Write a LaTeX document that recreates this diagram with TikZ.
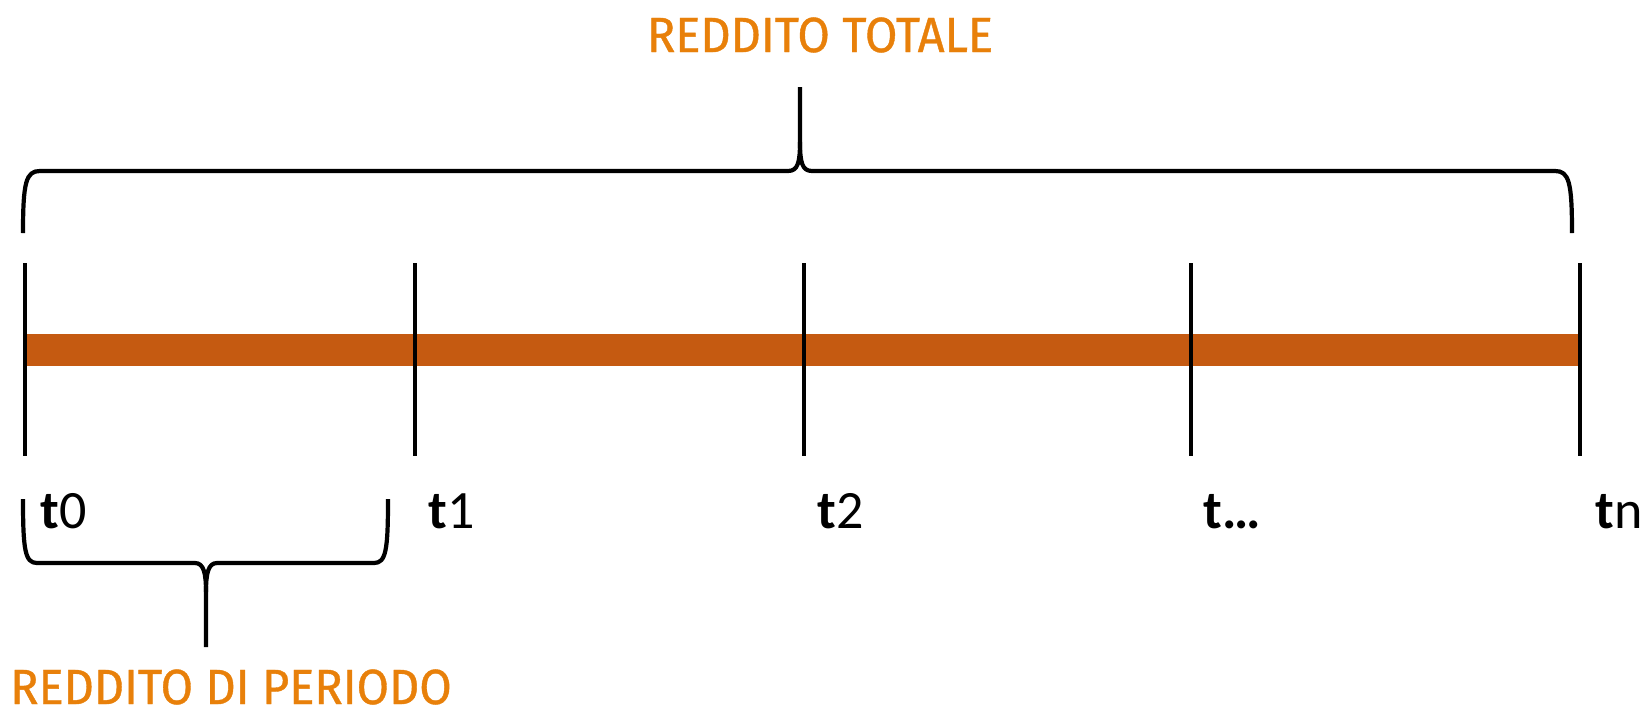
\documentclass[tikz,border=0pt]{standalone}
\usepackage{fontspec}
\setmainfont{Carlito}
\newfontfamily\headfont[FakeStretch=0.95, FakeBold=0.8]{Fira Sans}
\usepackage{xcolor}
\usepackage{tikz}
\usetikzlibrary{positioning, calc}
\definecolor{barorange}{RGB}{197,90,17}
\definecolor{headorange}{RGB}{232,128,10}
\tikzset{
  timebar/.style={line width=16pt, barorange},
  tickline/.style={line width=1.6pt},
  brace/.style={line width=2.1pt, line join=round},
  tlabel/.style={anchor=base west, inner sep=0pt, font=\fontsize{27}{30}\selectfont},
  head/.style={text=headorange, inner sep=0pt, font=\headfont\fontsize{24.7}{28}\selectfont},
}

\begin{document}
\begin{tikzpicture}[x=0.5pt, y=-0.5pt]
  \useasboundingbox (0,0) rectangle (1643,712);
  % time axis: bar with five ticks
  \foreach \n/\x in {0/25, 1/415, 2/804, 3/1191, 4/1580}
    \coordinate (p\n) at (\x,350);
  \draw[timebar] (p0)--(p4);
  \foreach \n in {0,...,4}
    \draw[tickline] ($(p\n)+(0,-87)$)--($(p\n)+(0,106)$);
  % tick labels
  \node[tlabel] (l0) at ($(p0)+(15,178)$) {\textbf{t}0};
  \node[tlabel] (l1) at ($(p1)+(13,178)$) {\textbf{t}1};
  \node[tlabel] (l2) at ($(p2)+(13,178)$) {\textbf{t}2};
  \node[tlabel] (l3) at ($(p3)+(12,178)$) {\textbf{t…}};
  \node[tlabel] (l4) at ($(p4)+(15,178)$) {\textbf{t}n};
  % total brace (top)
  \coordinate (tt) at (800,87);
  \draw[brace] (23,233) .. controls (23,182) and (26,171) .. (40,171) -- (788,171)
    .. controls (798,171) and (800,162) .. (800,142) -- (tt);
  \draw[brace] (1572,233) .. controls (1572,182) and (1569,171) .. (1555,171) -- (812,171)
    .. controls (802,171) and (800,162) .. (800,142);
  \node[head] (tot) at (820,35) {REDDITO TOTALE};
  % period brace (bottom)
  \coordinate (pt) at (206,647);
  \draw[brace] (23,499) .. controls (23,550) and (25,563) .. (37,563) -- (195,563)
    .. controls (204,563) and (206,574) .. (206,592) -- (pt);
  \draw[brace] (388,499) .. controls (388,550) and (386,563) .. (374,563) -- (217,563)
    .. controls (208,563) and (206,574) .. (206,592);
  \node[head] (per) at (231,687) {REDDITO DI PERIODO};
\end{tikzpicture}
\end{document}
